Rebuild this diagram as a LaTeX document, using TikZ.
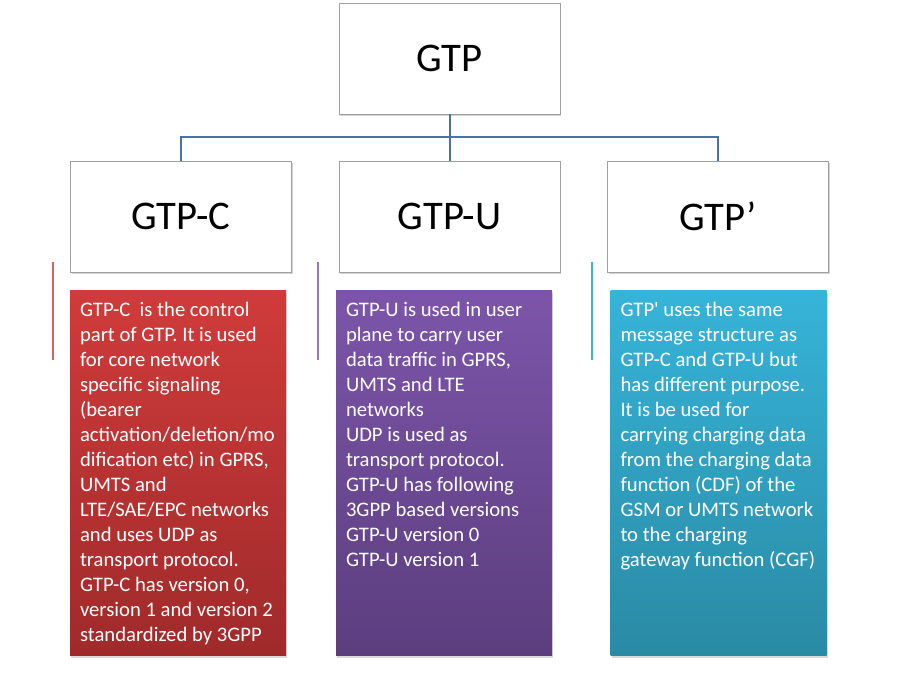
\documentclass[tikz,border=0pt]{standalone}
\usepackage{fontspec}
\setmainfont{Carlito}[Ligatures=TeXOff]
\usetikzlibrary{calc,positioning,shadows}
\definecolor{linkblue}{HTML}{4A72A8}
\definecolor{boxedge}{HTML}{A0A0A0}
\definecolor{redtop}{HTML}{D03B3B}
\definecolor{redbot}{HTML}{A02A2A}
\definecolor{purtop}{HTML}{7C55AA}
\definecolor{purbot}{HTML}{5C3E7E}
\definecolor{cyantop}{HTML}{36B4D9}
\definecolor{cyanbot}{HTML}{2A8AA4}

\begin{document}
\begin{tikzpicture}[x=0.75pt,y=0.75pt,
  head/.style={draw=boxedge,fill=white,line width=0.6pt,
    minimum width=165.75pt,minimum height=83.25pt,
    font=\fontsize{30.5}{36}\selectfont,
    drop shadow={opacity=0.35,shadow xshift=0.8pt,shadow yshift=-1.5pt}},
  descbox/.style={minimum width=162pt,minimum height=273.75pt,inner sep=0pt,
    drop shadow={opacity=0.3,shadow xshift=0.8pt,shadow yshift=-1.5pt}},
  desctext/.style={anchor=north west,inner sep=0pt,align=left,text=white,
    font=\fontsize{15.5}{18.75}\selectfont},
  link/.style={linkblue,line width=1.5pt},
  tick/.style={line width=0.8pt}]
  \useasboundingbox (0,0) rectangle (900,680);

  % tree of boxes
  \node[head] (gtp) at (449.5,621.5) {GTP};
  \node[head] (gtpc) at (181,463.5) {GTP-C};
  \node[head] (gtpu) at (449.5,463.5) {GTP-U};
  \node[head] (gtpp) at (718,463.5) {GTP’};

  \coordinate (bus) at ($(gtp.south)!0.5!(gtpu.north)$);
  \draw[link] (gtp.south) -- (gtpu.north);
  \draw[link] (bus) -| (gtpc.north);
  \draw[link] (bus) -| (gtpp.north);

  % side marks
  \draw[tick,redtop!80] (53,418) -- (53,320);
  \draw[tick,purtop!80] (318,418) -- (318,320);
  \draw[tick,cyantop] (592,418) -- (592,320);

  % description boxes
  \node[descbox,top color=redtop,bottom color=redbot] (cdesc) at (178,206.5) {};
  \node[descbox,top color=purtop,bottom color=purbot] (udesc) at (444,206.5) {};
  \node[descbox,top color=cyantop,bottom color=cyanbot] (pdesc) at (718.5,206.5) {};

  \node[desctext] (ctext) at ([xshift=7.5pt,yshift=-8.5pt]cdesc.north west)
    {GTP-C\ \ is the control\\part of GTP. It is used\\for core network\\specific signaling\\(bearer\\activation/deletion/mo\\dification etc) in GPRS,\\UMTS and\\LTE/SAE/EPC networks\\and uses UDP as\\transport protocol.\\GTP-C has version 0,\\version 1 and version 2\\standardized by 3GPP};
  \node[desctext] (utext) at ([xshift=7.5pt,yshift=-8.5pt]udesc.north west)
    {GTP-U is used in user\\plane to carry user\\data traffic in GPRS,\\UMTS and LTE\\networks\\UDP is used as\\transport protocol.\\GTP-U has following\\3GPP based versions\\GTP-U version 0\\GTP-U version 1};
  \node[desctext] (ptext) at ([xshift=7.5pt,yshift=-8.5pt]pdesc.north west)
    {GTP' uses the same\\message structure as\\GTP-C and GTP-U but\\has different purpose.\\It is be used for\\carrying charging data\\from the charging data\\function (CDF) of the\\GSM or UMTS network\\to the charging\\gateway function (CGF)};
\end{tikzpicture}
\end{document}
